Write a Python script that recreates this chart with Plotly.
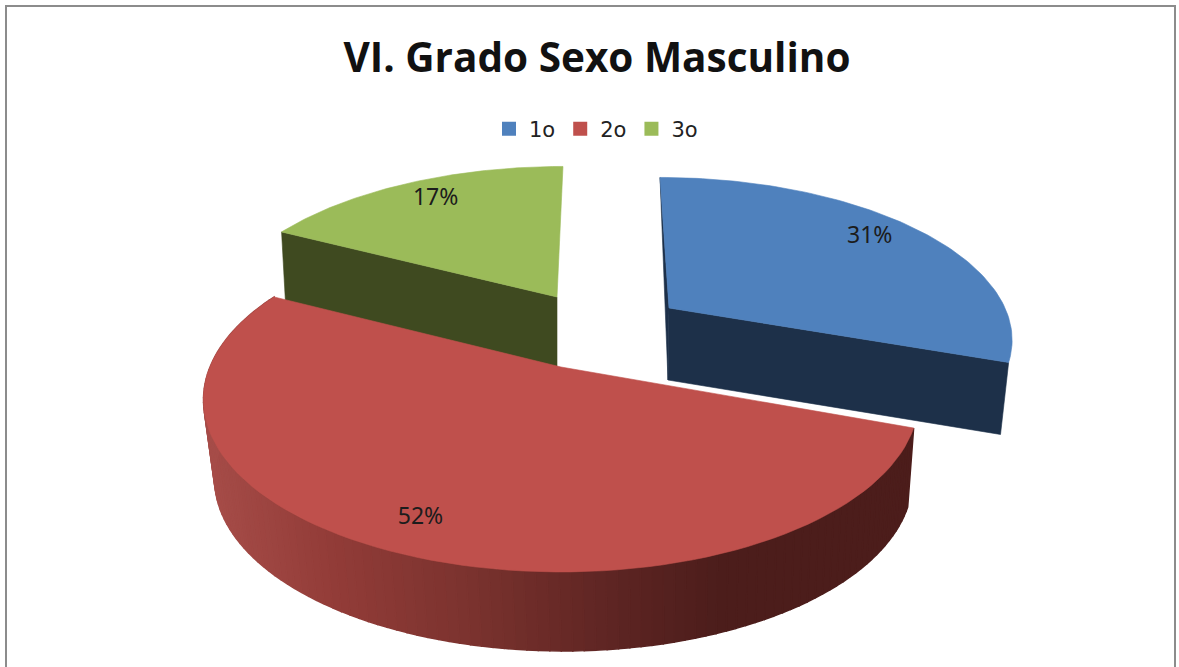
import math
import plotly.graph_objects as go

TITLE = "VI. Grado Sexo Masculino"
categories = ["1o", "2o", "3o"]
values = [31, 52, 17]
face_colors = ["#4f81bd", "#bf504c", "#9bbb59"]
wall_colors = ["#1d3049", "#a84c48", "#3f4a20"]

# Projection of each slice (pixel-based drawing plane)
PROJ = {
    "1o": dict(vx=669, vy=308, A=336, B=153, k=0.172, s=-10.5, depth=72, conv=621, f=0.979, lab=0.85, dl=-4,
               adj=(0, -2)),
    "2o": dict(vx=561, vy=367, A=351, B=166, k=0.19, s=0, depth=79, conv=665, f=0.976, lab=0.835, dl=-1,
               adj=(-1.5, -1.5)),
    "3o": dict(vx=557, vy=297, A=338, B=153, k=0.172, s=7, depth=75, conv=557, f=0.985, lab=0.85, dl=1,
               adj=(-1.5, 0)),
}
LABEL_DY = 3


def project(p, theta_deg, r=1.0):
    t = math.radians(theta_deg)
    u, v = r * math.sin(t), r * math.cos(t)
    w = 1 + p["k"] * v
    return p["vx"] + (p["A"] * u + p["s"] * v) / w, p["vy"] - p["B"] * v / w


def lower(p, x, y):
    return p["conv"] + p["f"] * (x - p["conv"]), y + p["depth"]


def lerp_hex(stops, x):
    for (x0, c0), (x1, c1) in zip(stops, stops[1:]):
        if x <= x1:
            s = max(0, (x - x0) / (x1 - x0))
            return "rgb(%d,%d,%d)" % tuple(round(a + (b - a) * s) for a, b in zip(c0, c1))
    return "rgb(%d,%d,%d)" % stops[-1][1]


total = sum(values)
spans = {}
mids = {}
start = 0.0
for name, val in zip(categories, values):
    end = start + 360 * val / total
    adj = PROJ[name]["adj"]
    spans[name] = (start + adj[0], end + adj[1])
    mids[name] = (start + end) / 2
    start = end

fig = go.Figure()


def poly(xs, ys, color, name=None, lw=0.6):
    fig.add_trace(go.Scatter(x=xs, y=ys, mode="lines", fill="toself", fillcolor=color,
                             line=dict(width=lw, color=color), hoverinfo="skip",
                             showlegend=False, name=name))


def face(name, color):
    p = PROJ[name]
    a, b = spans[name]
    n = 90
    pts = [project(p, a + (b - a) * i / n) for i in range(n + 1)]
    ax, ay = project(p, 0, 0)
    poly([ax] + [q[0] for q in pts] + [ax], [ay] + [q[1] for q in pts] + [ay], color, name)


def radial_wall(name, theta, color):
    p = PROJ[name]
    ax, ay = project(p, 0, 0)
    ex, ey = project(p, theta)
    bax, bay = lower(p, ax, ay)
    bex, bey = lower(p, ex, ey)
    poly([ax, ex, bex, bax, ax], [ay, ey, bey, bay, ay], color)


# Green slice
radial_wall("3o", spans["3o"][0], wall_colors[2])
face("3o", face_colors[2])

# Blue slice
p1 = PROJ["1o"]
ax1, ay1 = project(p1, 0, 0)
tx1, ty1 = project(p1, spans["1o"][0])
bx1, by1 = lower(p1, ax1, ay1)
poly([tx1, ax1, bx1, tx1], [ty1, ay1, by1, ty1], wall_colors[0])
radial_wall("1o", spans["1o"][1], wall_colors[0])
face("1o", face_colors[0])

# Red outer wall, shaded strip by strip
p2 = PROJ["2o"]
a2, b2 = spans["2o"]
stops = [(205, (166, 76, 72)), (330, (146, 60, 56)), (470, (122, 50, 46)),
         (620, (92, 36, 34)), (720, (76, 29, 27)), (920, (76, 29, 27))]
N = 120
for i in range(N):
    t0 = a2 + (b2 - a2) * i / N
    t1 = a2 + (b2 - a2) * (i + 1) / N
    x0, y0 = project(p2, t0)
    x1, y1 = project(p2, t1)
    bx0, by0 = lower(p2, x0, y0)
    bx1_, by1_ = lower(p2, x1, y1)
    poly([x0, x1, bx1_, bx0, x0], [y0, y1, by1_, by0, y0], lerp_hex(stops, (x0 + x1) / 2), lw=1.5)
face("2o", face_colors[1])

# Percentage labels
for name, val in zip(categories, values):
    x, y = project(PROJ[name], mids[name] + PROJ[name]["dl"], PROJ[name]["lab"])
    fig.add_trace(go.Scatter(x=[x], y=[y + LABEL_DY], mode="text", text=[f"{val}%"], textposition="middle center",
                             textfont=dict(family="Noto Sans", size=23, color="#1c1c1c"),
                             hoverinfo="skip", showlegend=False))

# Legend entries
for name, color in zip(categories, face_colors):
    fig.add_trace(go.Scatter(x=[None], y=[None], mode="markers", name=name,
                             marker=dict(symbol="square", size=14, color=color)))

fig.update_layout(
    width=1179, height=667, margin=dict(l=0, r=0, t=0, b=0, pad=0),
    autosize=False, paper_bgcolor="white", plot_bgcolor="white",
    xaxis=dict(range=[0, 1179], visible=False, fixedrange=True),
    yaxis=dict(range=[667, 0], visible=False, fixedrange=True),
    title=dict(text=f"<b>{TITLE}</b>", x=597 / 1179, xanchor="center", y=1 - 58 / 667, yanchor="middle",
               font=dict(family="Open Sans", size=40.5, color="#111111")),
    legend=dict(orientation="h", x=596 / 1179, xanchor="center", y=1 - 129 / 667, yanchor="middle",
                font=dict(family="DejaVu Sans", size=21, color="#222222"), itemwidth=30,
                bgcolor="rgba(0,0,0,0)"),
    shapes=[dict(type="rect", xref="paper", yref="paper", x0=6 / 1179, x1=1175 / 1179, y0=-0.02, y1=1 - 6 / 667,
                 line=dict(color="#8c8c8c", width=2), fillcolor="rgba(0,0,0,0)", layer="below")],
)
fig.write_html("out.html", config={"displayModeBar": False}, post_script="document.body.style.margin='0';")
